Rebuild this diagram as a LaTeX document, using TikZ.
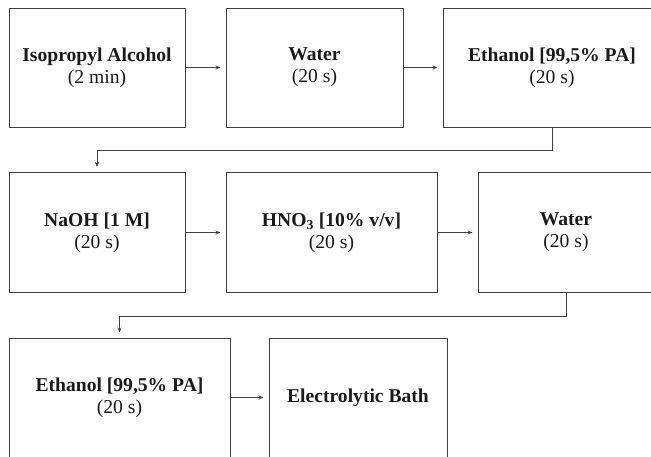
\documentclass[tikz,border=0pt]{standalone}
\usepackage{fontspec}
\setmainfont{Liberation Serif}
\usetikzlibrary{arrows.meta}
\definecolor{boxline}{HTML}{404040}
\definecolor{boxtext}{HTML}{1A1A1A}
\tikzset{stage/.style={draw=boxline,line width=1pt,minimum height=119pt,inner sep=0pt,
  align=center,text=boxtext,font=\fontsize{19.6}{22}\selectfont}}
\tikzset{flow/.style={draw=boxline,line width=0.9pt,-{Stealth[length=5pt,width=4pt]},shorten >=5pt}}

\begin{document}
\begin{tikzpicture}[x=1pt,y=-1pt]
	\useasboundingbox (0,0) rectangle (651,456);
	\clip (0,0) rectangle (651,456);
	% first row
	\node[stage,minimum width=176pt] (iso) at (97,67.5) {\textbf{Isopropyl Alcohol}\\(2 min)};
	\node[stage,minimum width=177pt] (water1) at (314.5,67.5) {\textbf{Water}\\(20 s)};
	\node[stage,minimum width=218pt] (eth1) at (552,67.5) {\textbf{Ethanol [99,5\% PA]}\\(20 s)};
	% second row
	\node[stage,minimum width=176pt,minimum height=120pt] (naoh) at (97,232.5) {\textbf{NaOH [1 M]}\\(20 s)};
	\node[stage,minimum width=211pt,minimum height=120pt] (hno3) at (331.5,232.5) {\textbf{HNO\textsubscript{3} [10\% v/v]}\\(20 s)};
	\node[stage,minimum width=176pt,minimum height=120pt] (water2) at (566,232.5) {\textbf{Water}\\(20 s)};
	% third row
	\node[stage,minimum width=221pt] (eth2) at (119.5,397.5) {\textbf{Ethanol [99,5\% PA]}\\(20 s)};
	\node[stage,minimum width=178pt] (bath) at (358,397.5) {\textbf{Electrolytic Bath}};

	\draw[flow] (iso) -- (water1);
	\draw[flow] (water1) -- (eth1);
	\draw[flow] (eth1.south) -- ++(0,23) -| (naoh.north);
	\draw[flow] (naoh) -- (hno3);
	\draw[flow] (hno3) -- (water2);
	\draw[flow] (water2.south) -- ++(0,23) -| (eth2.north);
	\draw[flow] (eth2) -- (bath);
\end{tikzpicture}
\end{document}
